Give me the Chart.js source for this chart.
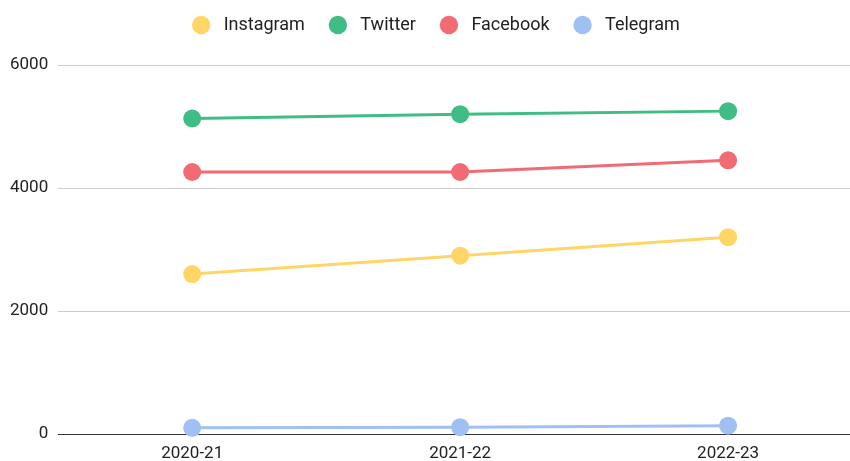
<!DOCTYPE html>
<html>
<head>
<meta charset="utf-8">
<script src="https://cdn.jsdelivr.net/npm/chart.js@4"></script>
<style>
  html, body { margin: 0; padding: 0; background: #fff; }
  #wrap { width: 850px; height: 461px; }
</style>
</head>
<body>
<div id="wrap"><canvas id="myChart"></canvas></div>
<script>
var years = ['2020-21', '2021-22', '2022-23'];
var instagram = [2600, 2900, 3200];
var twitter = [5130, 5200, 5250];
var facebook = [4260, 4260, 4450];
var telegram = [100, 110, 135];
var yTicks = [0, 2000, 4000, 6000];

function serie(nombre, datos, color) {
  return {
    label: nombre,
    data: datos.map(function (v, i) { return { x: i, y: v }; }),
    borderColor: color,
    backgroundColor: color,
    pointBackgroundColor: color,
    pointBorderColor: color,
    borderWidth: 3,
    pointRadius: 9,
    pointHoverRadius: 9,
    pointBorderWidth: 0,
    tension: 0,
    clip: 12
  };
}

// agranda la leyenda para bajar el area del grafico y la corre un poco a la derecha
var legendaAlta = {
  id: 'legendaAlta',
  beforeInit: function (chart) {
    var fit = chart.legend.fit;
    chart.legend.fit = function () {
      fit.bind(chart.legend)();
      this.height += 21;
    };
  },
  afterLayout: function (chart) {
    chart.legend.left += 22;
  }
};

var ctx = document.getElementById('myChart');
var myChart = new Chart(ctx, {
  type: 'line',
  data: {
    datasets: [
      serie('Instagram', instagram, '#FFD666'),
      serie('Twitter', twitter, '#40BD84'),
      serie('Facebook', facebook, '#F06B73'),
      serie('Telegram', telegram, '#A0C0F4')
    ]
  },
  plugins: [legendaAlta],
  options: {
    responsive: true,
    maintainAspectRatio: false,
    animation: false,
    layout: {
      autoPadding: false,
      padding: { left: 0, right: 0, top: -8, bottom: -12 }
    },
    plugins: {
      tooltip: { enabled: false },
      legend: {
        position: 'top',
        labels: {
          usePointStyle: true,
          pointStyle: 'circle',
          boxHeight: 13,
          padding: 24,
          color: '#222',
          font: { family: 'Roboto', size: 18 },
          generateLabels: function (chart) {
            var items = Chart.defaults.plugins.legend.labels.generateLabels(chart);
            items.forEach(function (it) { it.text = ' ' + it.text; });
            return items;
          }
        }
      }
    },
    scales: {
      x: {
        type: 'linear',
        min: -0.5,
        max: 2.455,
        afterBuildTicks: function (scale) {
          scale.ticks = years.map(function (y, i) { return { value: i }; });
        },
        grid: { display: false, drawTicks: false },
        border: { display: true, color: '#333', width: 1 },
        ticks: {
          padding: 11,
          color: '#222',
          maxRotation: 0,
          callback: function (v) { return years[v]; },
          font: { family: 'Roboto', size: 17, lineHeight: 1 }
        }
      },
      y: {
        min: 0,
        max: 6000,
        afterBuildTicks: function (scale) {
          scale.ticks = yTicks.map(function (v) { return { value: v }; });
        },
        border: { display: false },
        grid: {
          drawTicks: false,
          color: function (c) { return c.tick && c.tick.value === 0 ? '#333' : '#ccc'; },
          lineWidth: 1
        },
        ticks: {
          padding: 10,
          color: '#222',
          callback: function (v) { return String(v); },
          font: { family: 'Roboto', size: 17 }
        }
      }
    }
  }
});
</script>
</body>
</html>
